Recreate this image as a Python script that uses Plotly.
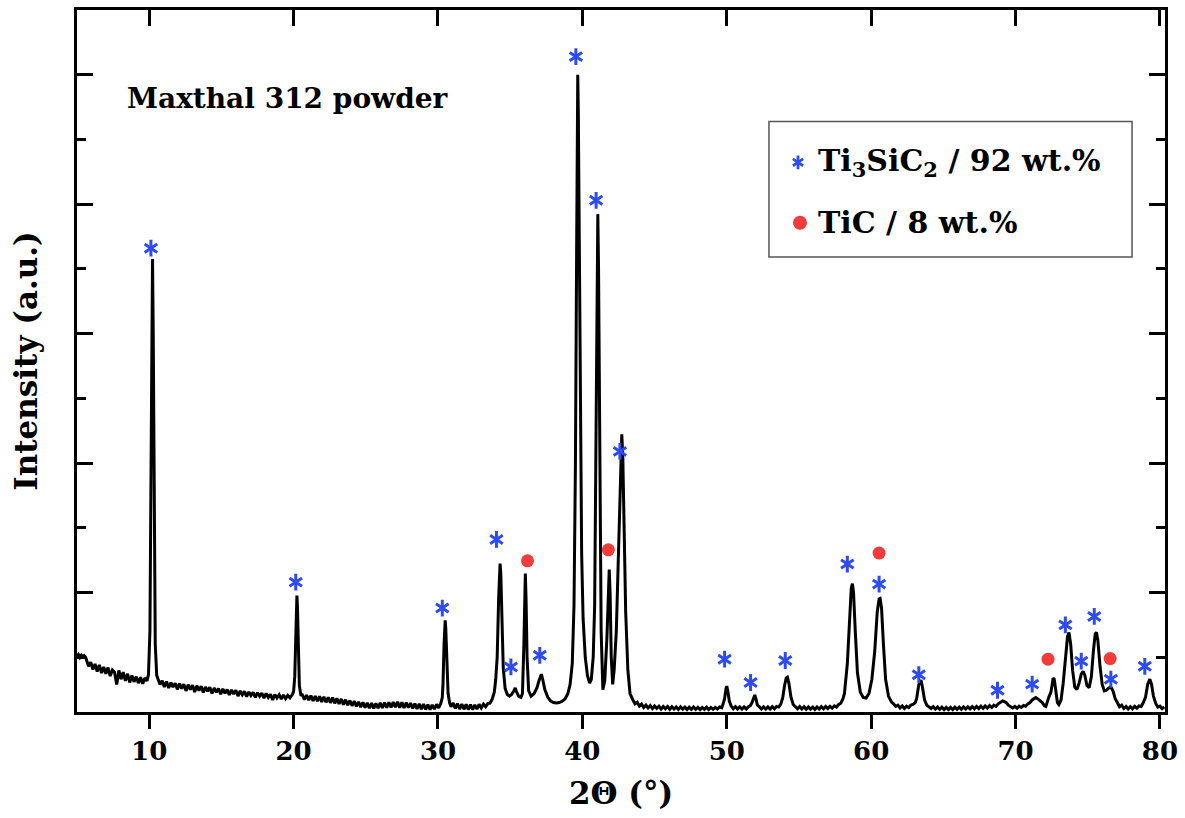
import plotly.graph_objects as go

# ---------------- data ----------------
two_theta = [
    5.0, 5.1, 5.2, 5.3, 5.4, 5.5, 5.6, 5.7, 5.8, 5.95, 6.1, 6.25, 6.4, 6.55, 6.7, 6.85, 7.0, 7.15, 7.3,
    7.45, 7.6, 7.75, 7.9, 8.05, 8.2, 8.35, 8.5, 8.65, 8.8, 8.95, 9.1, 9.25, 9.4, 9.55, 9.7, 9.85, 9.95,
    10.05, 10.12, 10.18, 10.23, 10.28, 10.34, 10.42, 10.52,
    10.6, 10.75, 10.9, 11.05, 11.2, 11.35, 11.5, 11.65, 11.8, 11.95, 12.1, 12.25, 12.4, 12.55, 12.7, 12.85,
    13.0, 13.15, 13.3, 13.45, 13.6, 13.75, 13.9, 14.05, 14.2, 14.35, 14.5, 14.65, 14.8, 14.95, 15.1, 15.25,
    15.4, 15.55, 15.7, 15.85, 16.0, 16.15, 16.3, 16.45, 16.6, 16.75, 16.9, 17.05, 17.2, 17.35, 17.5, 17.65,
    17.8, 17.95, 18.1, 18.25, 18.4, 18.55, 18.7, 18.85, 19.0, 19.15, 19.3, 19.45, 19.6, 19.75, 19.9, 20.0,
    20.08, 20.15, 20.2, 20.23, 20.27, 20.32, 20.4, 20.5,
    20.6, 20.75, 20.9, 21.05, 21.2, 21.35, 21.5, 21.65, 21.8, 21.95, 22.1, 22.25, 22.4, 22.55, 22.7, 22.85,
    23.0, 23.15, 23.3, 23.45, 23.6, 23.75, 23.9, 24.05, 24.2, 24.35, 24.5, 24.65, 24.8, 24.95, 25.1, 25.25,
    25.4, 25.55, 25.7, 25.85, 26.0, 26.15, 26.3, 26.45, 26.6, 26.75, 26.9, 27.05, 27.2, 27.35, 27.5, 27.65,
    27.8, 27.95, 28.1, 28.25, 28.4, 28.55, 28.7, 28.85, 29.0, 29.15, 29.3, 29.45, 29.6, 29.75, 29.9, 30.05,
    30.2, 30.3,
    30.35, 30.42, 30.47, 30.5, 30.54, 30.6, 30.7, 30.8,
    30.9, 31.05, 31.2, 31.35, 31.5, 31.65, 31.8, 31.95, 32.1, 32.25, 32.4, 32.55, 32.7, 32.85, 33.0, 33.15,
    33.3, 33.45, 33.6, 33.75, 33.9, 34.0,
    34.1, 34.2, 34.27, 34.3, 34.35, 34.42, 34.52, 34.65, 34.8, 34.95, 35.1, 35.25, 35.35, 35.45, 35.6,
    35.75, 35.85, 35.95, 36.0, 36.05, 36.1, 36.17, 36.28, 36.45, 36.65, 36.85, 37.0, 37.1, 37.16, 37.25,
    37.4, 37.6, 37.8, 38.0, 38.2, 38.4, 38.6, 38.8, 39.0, 39.15, 39.3, 39.42, 39.52, 39.6, 39.65, 39.68,
    39.72, 39.78, 39.86, 39.95, 40.05, 40.2, 40.35, 40.5, 40.62, 40.75, 40.85, 40.95, 41.02, 41.07, 41.12,
    41.2, 41.3, 41.42, 41.55, 41.7, 41.8, 41.86, 41.92, 42.0, 42.1, 42.2, 42.35, 42.5, 42.62, 42.7, 42.73,
    42.8, 42.9, 43.0, 43.15, 43.3,
    43.5, 43.65, 43.8, 43.95, 44.1, 44.25, 44.4, 44.55, 44.7, 44.85, 45.0, 45.15, 45.3, 45.45, 45.6, 45.75,
    45.9, 46.05, 46.2, 46.35, 46.5, 46.65, 46.8, 46.95, 47.1, 47.25, 47.4, 47.55, 47.7, 47.85, 48.0, 48.15,
    48.3, 48.45, 48.6, 48.75, 48.9, 49.05, 49.2, 49.35, 49.5, 49.65, 49.75,
    49.85, 49.95, 50.0, 50.07, 50.18, 50.3,
    50.45, 50.6, 50.75, 50.9, 51.05, 51.2, 51.35, 51.5, 51.62, 51.75, 51.85, 51.94, 52.02, 52.12, 52.25,
    52.4, 52.55, 52.7, 52.85, 53.0, 53.15, 53.3, 53.45, 53.6, 53.75, 53.88, 54.0, 54.12, 54.2, 54.3, 54.45,
    54.6, 54.75, 54.9, 55.05, 55.2, 55.35, 55.5, 55.65, 55.8, 55.95, 56.1, 56.25, 56.4, 56.55, 56.7, 56.85,
    57.0, 57.15, 57.3, 57.45, 57.6, 57.75, 57.9, 58.05, 58.15, 58.35, 58.5, 58.62, 58.7, 58.78, 58.9, 59.05,
    59.25, 59.45, 59.65, 59.85, 60.05, 60.25, 60.42, 60.55, 60.62, 60.72, 60.85, 61.0, 61.2, 61.4, 61.55,
    61.7, 61.85, 62.0, 62.15, 62.3, 62.45, 62.6, 62.75, 62.9, 63.05, 63.15, 63.3, 63.4, 63.45, 63.55, 63.7,
    63.85, 64.0, 64.15, 64.3, 64.45, 64.6, 64.75, 64.9, 65.05, 65.2, 65.35, 65.5, 65.65, 65.8, 65.95, 66.1,
    66.25, 66.4, 66.55, 66.7, 66.85, 67.0, 67.15, 67.3, 67.45, 67.6, 67.75, 67.9, 68.05, 68.2, 68.35, 68.5,
    68.65, 68.8, 68.95, 69.1, 69.2, 69.35, 69.5, 69.65, 69.8, 69.95, 70.1, 70.25, 70.4, 70.55, 70.7, 70.85,
    71.0, 71.15, 71.3, 71.4, 71.55, 71.7, 71.85, 72.0, 72.1, 72.3, 72.45, 72.55, 72.6, 72.68, 72.78, 72.9,
    73.0, 73.15, 73.3, 73.45, 73.6, 73.7, 73.82, 73.95, 74.1, 74.25, 74.4, 74.55, 74.68, 74.8, 74.95, 75.1,
    75.25, 75.4, 75.52, 75.6, 75.7, 75.85, 76.0, 76.15, 76.3, 76.45, 76.6, 76.75, 76.9, 77.05, 77.2, 77.35,
    77.5, 77.65, 77.8, 77.95, 78.1, 78.25, 78.4, 78.55, 78.7, 78.85, 79.0, 79.15, 79.3, 79.42, 79.55, 79.7,
    79.85, 80.0, 80.15, 80.3,
]
intensity = [
    505, 520, 498, 515, 502, 512, 500, 470, 430, 462, 405, 448, 390, 440, 378, 425, 372, 420, 355,
    402, 385, 290, 398, 330, 385, 318, 372, 305, 360, 310, 350, 300, 345, 296, 340, 318, 365,
    700, 1800, 3200, 3577, 3000, 1500, 600, 360,
    330, 290, 318, 270, 312, 262, 305, 270, 300, 252, 296, 258, 292, 240, 288, 250,
    284, 232, 280, 242, 276, 228, 270, 236, 268, 220, 262, 230, 258, 215, 256, 222,
    250, 208, 248, 216, 244, 200, 240, 210, 236, 196, 232, 204, 228, 190, 226, 198,
    222, 184, 220, 190, 214, 170, 212, 185, 210, 178, 208, 180, 205, 186, 210, 235,
    350, 700, 950, 977, 880, 550, 280, 210,
    210, 172, 208, 168, 204, 162, 200, 160, 198, 155, 194, 152, 190, 148, 188, 144,
    182, 140, 178, 134, 172, 130, 166, 125, 162, 120, 156, 114, 152, 110, 148, 106,
    146, 104, 144, 106, 148, 108, 150, 110, 152, 112, 154, 114, 156, 110, 152, 108,
    150, 110, 146, 104, 142, 100, 140, 98, 138, 96, 134, 95, 132, 100, 136, 108,
    145, 190,
    300, 600, 770, 785, 720, 450, 220, 150,
    118, 146, 104, 142, 100, 138, 98, 136, 96, 134, 95, 132, 100, 136, 108, 138,
    118, 142, 145, 175, 230, 330,
    500, 950, 1200, 1223, 1150, 800, 420, 260, 212, 200, 212, 240, 262, 230, 196,
    190, 220, 600, 1000, 1146, 950, 500, 240, 200, 218, 262, 320, 360, 369, 330,
    250, 192, 162, 150, 146, 150, 160, 178, 220, 290, 450, 900, 2000, 3600, 4700, 5000,
    4700, 3600, 2200, 1300, 800, 500, 360, 300, 330, 500, 900, 2200, 3500, 3923, 3500,
    2000, 700, 250, 320, 650, 1050, 1177, 1000, 500, 290, 400, 700, 1300, 1900, 2200, 2223,
    2050, 1500, 850, 400, 220,
    170, 140, 152, 122, 138, 112, 130, 108, 126, 104, 124, 106, 122, 100, 120, 102,
    119, 98, 118, 100, 116, 97, 117, 99, 115, 96, 114, 98, 116, 97, 113, 95,
    112, 97, 114, 96, 112, 98, 113, 100, 116, 110, 140,
    180, 260, 277, 240, 160, 125,
    102, 118, 100, 117, 99, 116, 100, 118, 125, 150, 190, 208, 180, 130, 118,
    100, 117, 99, 116, 100, 118, 102, 120, 115, 140, 190, 280, 340, 346, 300, 190,
    135, 118, 102, 120, 100, 118, 98, 116, 99, 115, 97, 116, 100, 118, 101, 120,
    103, 121, 106, 124, 115, 135, 145, 180, 220, 450, 800, 1030, 1069, 1000, 700, 380,
    230, 190, 185, 220, 330, 550, 850, 950, 954, 880, 600, 330, 200, 155, 140,
    120, 130, 108, 124, 104, 122, 112, 130, 135, 150, 180, 290, 320, 323, 270, 170,
    130, 120, 104, 118, 99, 116, 97, 114, 96, 113, 95, 112, 96, 114, 97, 115,
    98, 116, 100, 117, 101, 118, 102, 120, 104, 122, 106, 124, 108, 126, 112, 130,
    120, 140, 150, 162, 158, 150, 130, 122, 108, 120, 106, 122, 112, 128, 122, 140,
    150, 170, 180, 188, 178, 165, 150, 125, 120, 190, 230, 300, 338, 330, 240, 150,
    135, 170, 300, 480, 660, 692, 600, 400, 270, 250, 300, 370, 392, 360, 280, 265,
    350, 560, 680, 692, 630, 430, 290, 240, 245, 262, 270, 240, 180, 150, 118, 130,
    104, 120, 100, 118, 102, 120, 106, 124, 120, 150, 190, 290, 331, 290, 200, 145,
    115, 122, 102, 116,
]

# Phase markers (label positions above the peaks)
ti3sic2_x = [10.12, 20.15, 30.3, 34.05, 35.05, 37.05, 39.55, 40.95, 42.6, 49.85, 51.65, 54.05,
             58.35, 60.55, 63.3, 68.75, 71.15, 73.45, 74.55, 75.45, 76.6, 78.95]
ti3sic2_y = [3660, 1080, 880, 1410, 425, 515, 5140, 4030, 2090, 485, 305, 475,
             1220, 1065, 365, 245, 292, 750, 470, 815, 330, 430]
tic_x = [36.2, 41.8, 60.55, 72.25, 76.55]
tic_y = [1245, 1330, 1305, 485, 490]

x_ticks = [10, 20, 30, 40, 50, 60, 70, 80]
title_text = "Maxthal 312 powder"
legend_labels = ["Ti<sub>3</sub>SiC<sub>2</sub> / 92 wt.%", "TiC / 8 wt.%"]

BLUE = "#2e4bf0"
RED = "#f23c3c"
FONT = "DejaVu Serif"

fig = go.Figure()

fig.add_trace(go.Scatter(x=two_theta, y=intensity, mode="lines",
                         line=dict(color="black", width=3), showlegend=False,
                         hoverinfo="skip"))

# six-armed asterisks = y-up + y-down open markers
for sym in ["y-up-open", "y-down-open"]:
    fig.add_trace(go.Scatter(x=ti3sic2_x, y=ti3sic2_y, mode="markers",
                             marker=dict(symbol=sym, size=10.5, color=BLUE,
                                         line=dict(color=BLUE, width=3)),
                             showlegend=False, hoverinfo="skip"))
fig.add_trace(go.Scatter(x=tic_x, y=tic_y, mode="markers",
                         marker=dict(symbol="circle", size=13, color=RED,
                                     line=dict(width=0)),
                         showlegend=False, hoverinfo="skip"))

# legend markers on a unit overlay axis
leg_mx = [0.6627, 0.6645]
leg_my = [0.783, 0.697]
for sym in ["y-up-open", "y-down-open"]:
    fig.add_trace(go.Scatter(x=[leg_mx[0]], y=[leg_my[0]], mode="markers", xaxis="x3", yaxis="y3",
                             marker=dict(symbol=sym, size=8.5, color=BLUE,
                                         line=dict(color=BLUE, width=2.8)),
                             showlegend=False, hoverinfo="skip"))
fig.add_trace(go.Scatter(x=[leg_mx[1]], y=[leg_my[1]], mode="markers", xaxis="x3", yaxis="y3",
                         marker=dict(symbol="circle", size=14, color=RED, line=dict(width=0)),
                         showlegend=False, hoverinfo="skip"))

x_range = [5, 80.35]
y_range = [77, 5500]

fig.update_layout(
    width=1185, height=818,
    margin=dict(l=77, r=20, t=7, b=106),
    paper_bgcolor="white", plot_bgcolor="white",
    font=dict(family=FONT, color="black"),
    xaxis=dict(range=x_range, tickvals=x_ticks, ticktext=[str(v) for v in x_ticks],
               ticks="outside", ticklen=14, tickwidth=2.5, tickcolor="black",
               showline=True, linewidth=3, linecolor="black", mirror=True,
               showgrid=False, zeroline=False,
               tickfont=dict(family=FONT, size=26, color="black", weight="bold"),
               title=dict(text="2Θ (°)", standoff=18,
                          font=dict(family=FONT, size=31, color="black", weight="bold"))),
    xaxis2=dict(range=x_range, tickvals=x_ticks, overlaying="x", side="top", anchor="y",
                ticks="inside", ticklen=16, tickwidth=2.5, tickcolor="black",
                showticklabels=False, showline=False, showgrid=False, zeroline=False),
    yaxis=dict(range=y_range, tick0=0, dtick=1000, ticks="inside", ticklen=16, tickwidth=2.5,
               tickcolor="black", showticklabels=False,
               minor=dict(dtick=500, tick0=0, ticks="inside", ticklen=9, tickwidth=2.5,
                          tickcolor="black", showgrid=False),
               showline=True, linewidth=3, linecolor="black", mirror="ticks",
               showgrid=False, zeroline=False,
               title=dict(text="Intensity (a.u.)", standoff=28,
                          font=dict(family=FONT, size=31, color="black", weight="bold"))),
    xaxis3=dict(range=[0, 1], overlaying="x", anchor="y3", visible=False),
    yaxis3=dict(range=[0, 1], overlaying="y", anchor="x3", visible=False),
    showlegend=False,
)

# dummy invisible trace so the top tick axis is drawn
fig.add_trace(go.Scatter(x=[None], y=[None], xaxis="x2", yaxis="y", showlegend=False))

fig.add_annotation(text=title_text, xref="paper", yref="paper", x=0.044, y=0.874,
                   xanchor="left", yanchor="middle", showarrow=False,
                   font=dict(family=FONT, size=28, color="black", weight="bold"))

# legend box
fig.add_shape(type="rect", xref="paper", yref="paper", x0=0.636, x1=0.9697, y0=0.648, y1=0.841,
              line=dict(color="#555555", width=1.5), fillcolor="rgba(0,0,0,0)")
fig.add_annotation(text=legend_labels[0], xref="paper", yref="paper", x=0.679, y=0.783,
                   xanchor="left", yanchor="middle", showarrow=False,
                   font=dict(family=FONT, size=30, color="black", weight="bold"))
fig.add_annotation(text=legend_labels[1], xref="paper", yref="paper", x=0.679, y=0.697,
                   xanchor="left", yanchor="middle", showarrow=False,
                   font=dict(family=FONT, size=30, color="black", weight="bold"))

fig.write_html("out.html")
